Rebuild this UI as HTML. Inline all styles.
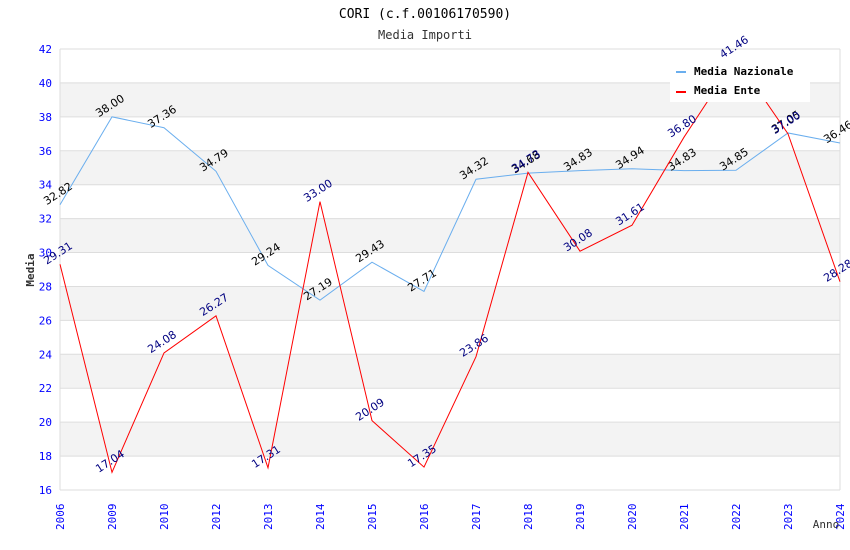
<!DOCTYPE html>
<html><head><meta charset="utf-8"><style>
body{margin:0;background:#fff;}
svg{display:block;font-family:"DejaVu Sans Mono","Liberation Mono",monospace;}
</style></head><body>
<svg id="c" width="850" height="550">
<text x="425" y="18" text-anchor="middle" font-size="13" fill="#000">CORI (c.f.00106170590)</text>
<text x="425" y="39" text-anchor="middle" font-size="12" fill="#333">Media Importi</text>
<g id="bands"></g><g id="grid"></g><g id="ticks"></g><g id="series"></g>
<text transform="translate(34,270) rotate(-90)" text-anchor="middle" font-size="11" font-weight="bold" fill="#333">Media</text>
<text x="826" y="528" text-anchor="middle" font-size="11" fill="#333">Anno</text>
<g>
<rect x="670" y="57" width="140" height="45" fill="#fff"/>
<rect x="676" y="71" width="10" height="2" fill="#6aaeee"/>
<text x="694" y="75" font-size="11" font-weight="bold" fill="#000">Media Nazionale</text>
<rect x="676" y="91" width="10" height="2" fill="#ff0000"/>
<text x="694" y="94" font-size="11" font-weight="bold" fill="#000">Media Ente</text>
</g>
</svg>
<script>
const categories=["2006","2009","2010","2012","2013","2014","2015","2016","2017","2018","2019","2020","2021","2022","2023","2024"];
const nazionale=[32.82,38.00,37.36,34.79,29.24,27.19,29.43,27.71,34.32,34.68,34.83,34.94,34.83,34.85,37.05,36.46];
const ente=[29.31,17.04,24.08,26.27,17.31,33.00,20.09,17.35,23.86,34.73,30.08,31.61,36.80,41.46,37.00,28.28];
const yTicks=[16,18,20,22,24,26,28,30,32,34,36,38,40,42];
const NS="http://www.w3.org/2000/svg";
const L=60,R=840,T=49,B=490,yMin=16,yMax=42;
const x=i=>L+i*(R-L)/(categories.length-1);
const y=v=>B-(v-yMin)*(B-T)/(yMax-yMin);
function mk(tag,parent,attrs){const e=document.createElementNS(NS,tag);for(const k in attrs)e.setAttribute(k,attrs[k]);document.getElementById(parent).appendChild(e);return e;}
for(let i=0;i<yTicks.length-1;i++){const v=yTicks[i];
 if(v%4===2){const r=mk('rect','bands',{x:L,y:y(v+2),width:R-L,height:y(v)-y(v+2),fill:'#f3f3f3'});
 
 }}
yTicks.forEach(v=>{const g=mk('line','grid',{x1:L,x2:R,y1:y(v),y2:y(v),stroke:'#dddddd'});
 
 
 const t=mk('text','ticks',{x:L-8,y:y(v)+4,'text-anchor':'end','font-size':'11',fill:'#0000ff'});t.textContent=v;
 
 });
const ax=mk('line','grid',{x1:L,x2:L,y1:T,y2:B,stroke:'#ddd'});


mk('line','grid',{x1:R,x2:R,y1:T,y2:B,stroke:'#ddd'});
categories.forEach((c,i)=>{const t=mk('text','ticks',{transform:`translate(${x(i)+4},${B+40}) rotate(-90)`,'font-size':'11',fill:'#0000ff'});t.textContent=c;
 
 });
function series(vals,color,lab,name){
 const p=mk('polyline','series',{points:vals.map((v,i)=>x(i)+','+y(v)).join(' '),fill:'none',stroke:color,'stroke-width':1});
 
 
 vals.forEach((v,i)=>{const t=mk('text','series',{transform:`translate(${x(i)},${y(v)-8}) rotate(-33)`,'text-anchor':'middle','font-size':'11',fill:lab,'font-family':'DejaVu Sans,sans-serif'});t.textContent=v.toFixed(2);
 
 });}
series(nazionale,'#6aaeee','#000','nazionale');
series(ente,'#ff0000','#000080','ente');
</script>
</body></html>
